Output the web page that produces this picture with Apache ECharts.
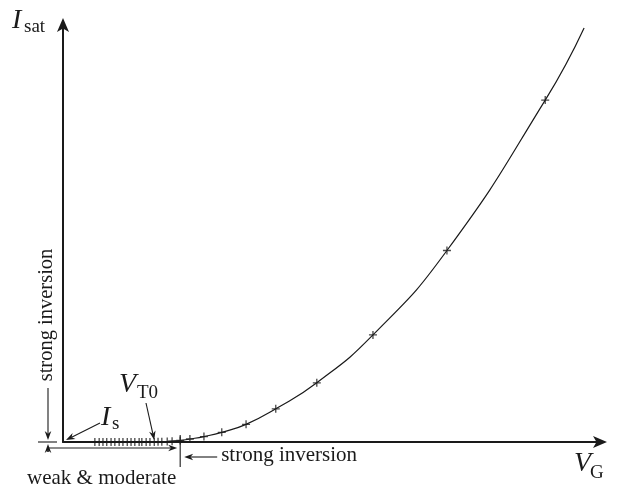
<!DOCTYPE html>
<html>
<head>
<meta charset="utf-8">
<script src="https://cdn.jsdelivr.net/npm/echarts@6/dist/echarts.min.js"></script>
<style>
  html, body { margin: 0; padding: 0; background: #fff; }
  #chart { width: 622px; height: 487px; }
</style>
</head>
<body>
<div id="chart"></div>
<script>
// Gate voltage V_G of each sampled point (arbitrary units)
const vGate = [0.59, 0.67, 0.74, 0.81, 0.89, 0.96, 1.04, 1.11, 1.19, 1.26, 1.33, 1.41,
               1.46, 1.54, 1.61, 1.69, 1.76, 1.83, 1.93, 2.02, 2.17, 2.35, 2.61, 2.94,
               3.39, 3.94, 4.70, 5.74, 7.11, 8.93];
// Saturation current I_sat at each sampled point (arbitrary units)
const iSat = [0, 0, 0, 0, 0, 0.0001, 0.0001, 0.0002, 0.0002, 0.0003, 0.0004, 0.0006,
              0.0008, 0.001, 0.0015, 0.002, 0.0035, 0.006, 0.011, 0.02, 0.036, 0.071, 0.13, 0.23,
              0.42, 0.79, 1.41, 2.55, 4.56, 8.14];
// The curve keeps rising past the last marker
const curveTailV = [9.65];
const curveTailI = [9.86];
// Marker the V_T0 arrow points at, and the first strong-inversion marker
const vT0Index = 15;
const strongIndex = 20;

const FONT = '"Liberation Serif", "DejaVu Serif", serif';
const INK = '#1a1a1a';

const chart = echarts.init(document.getElementById('chart'), null, { renderer: 'canvas' });

const markerPts = vGate.map((v, i) => [v, iSat[i]]);
const curvePts = markerPts.concat(curveTailV.map((v, i) => [v, curveTailI[i]]));

chart.setOption({
  animation: false,
  backgroundColor: '#fff',
  grid: { left: 63, right: 19, top: 22, bottom: 45 },
  xAxis: {
    type: 'value', min: 0, max: 10,
    axisLine: { show: true, lineStyle: { color: INK, width: 2 },
                symbol: ['none', 'arrow'], symbolSize: [9, 14], symbolOffset: [0, 4] },
    axisTick: { show: false }, axisLabel: { show: false }, splitLine: { show: false }
  },
  yAxis: {
    type: 'value', min: 0, max: 10,
    axisLine: { show: true, lineStyle: { color: INK, width: 2 },
                symbol: ['none', 'arrow'], symbolSize: [9, 14], symbolOffset: [0, 4] },
    axisTick: { show: false }, axisLabel: { show: false }, splitLine: { show: false }
  },
  series: [
    {
      type: 'line', data: curvePts, showSymbol: false, smooth: 0.5,
      lineStyle: { color: INK, width: 1.2 }, z: 3
    },
    {
      type: 'scatter', data: markerPts,
      symbol: 'path://M5 0 L5 10 M0 5 L10 5', symbolSize: 8,
      itemStyle: { color: 'none', borderColor: INK, borderWidth: 1.3 }, z: 4
    }
  ]
});

const toPx = p => chart.convertToPixel({ xAxisIndex: 0, yAxisIndex: 0 }, p);

// Arrow with a LaTeX-style head; tip at (x2, y2)
function arrow(x1, y1, x2, y2) {
  const dx = x2 - x1, dy = y2 - y1, L = Math.hypot(dx, dy);
  const ux = dx / L, uy = dy / L, nx = -uy, ny = ux;
  const hl = 9, hw = 3.3;
  const bx = x2 - ux * hl, by = y2 - uy * hl;
  const mx = x2 - ux * hl * 0.7, my = y2 - uy * hl * 0.7;
  return [
    { type: 'line', shape: { x1, y1, x2: mx, y2: my }, style: { stroke: INK, lineWidth: 1.1 } },
    { type: 'polygon', shape: { points: [[x2, y2], [bx + nx * hw, by + ny * hw], [mx, my], [bx - nx * hw, by - ny * hw]] },
      style: { fill: INK } }
  ];
}
function seg(x1, y1, x2, y2) {
  return { type: 'line', shape: { x1, y1, x2, y2 }, style: { stroke: INK, lineWidth: 1.1 } };
}
function txt(text, x, y, size, italic, align) {
  return { type: 'text', x, y, style: { text, fill: INK, fontFamily: FONT, fontSize: size,
    fontStyle: italic ? 'italic' : 'normal', align: align || 'left', verticalAlign: 'middle' } };
}

const O = toPx([0, 0]);
const vt = toPx(markerPts[vT0Index]);
const st = toPx(markerPts[strongIndex]);

const els = [];
// axis names
els.push(txt('I', 12, 21, 28, true), txt('sat', 24, 27, 19, false));
els.push(txt('V', 574, 464, 28, true), txt('G', 590, 473, 19, false));
// I_s pointing at the origin
els.push(txt('I', 101, 418, 28, true), txt('s', 112, 424, 19, false));
els.push(...arrow(100, 423, O[0] + 3, O[1] - 2));
// V_T0 pointing at the threshold point on the curve
els.push(txt('V', 119, 385, 28, true), txt('T0', 137, 393, 19, false));
els.push(...arrow(146, 403, vt[0], vt[1] - 2));
// left bracket: strong inversion measured downwards onto the axis level
els.push(seg(38, O[1], 57, O[1]));
els.push({ type: 'text', x: 47, y: 315, rotation: Math.PI / 2,
  style: { text: 'strong inversion', fill: INK, fontFamily: FONT, fontSize: 20.5, align: 'center', verticalAlign: 'middle' } });
els.push(...arrow(48, 388, 48, O[1] - 2));
// weak & moderate range along the bottom
els.push(...arrow(48, 452, 48, O[1] + 2));
els.push(seg(48, 448, 48, 452));
els.push(...arrow(48, 448, st[0] - 3, 448));
els.push(txt('weak & moderate', 27, 478, 21, false));
// divider at the start of strong inversion
els.push(seg(st[0], O[1] - 7, st[0], O[1] + 25));
els.push(...arrow(st[0] + 37, 457, st[0] + 4, 457));
els.push(txt('strong inversion', st[0] + 41, 455, 21, false));

chart.setOption({ graphic: { elements: els } });
</script>
</body>
</html>
